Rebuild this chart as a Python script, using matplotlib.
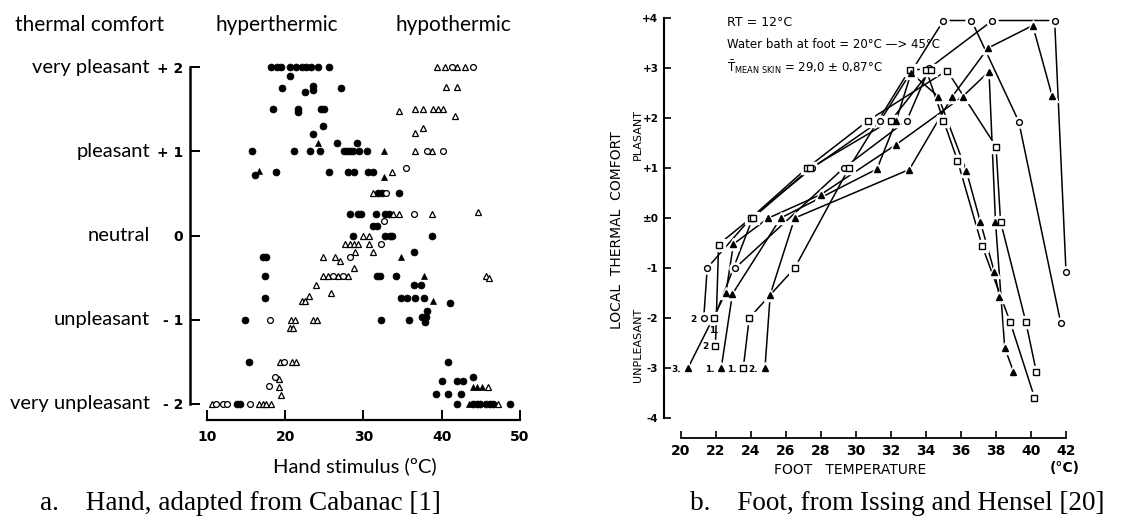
import matplotlib
matplotlib.use("Agg")
import matplotlib.pyplot as plt

W, H = 1136, 523

# ---- panel a: hand (Cabanac) ----
fc_x = [18.2, 18.9, 19.5, 20.6, 21.4, 22.1, 22.7, 23.3, 24.2, 25.6,
        20.6, 19.6, 22.5, 23.6, 23.6, 27.1,
        18.5, 21.6, 21.6, 24.6, 25.0, 24.8, 23.6, 26.6, 29.2,
        15.7, 21.1, 23.2, 24.5, 27.5, 27.9, 28.3, 28.7, 29.4, 30.5,
        16.2, 18.8, 25.6, 28.0, 28.8, 30.6, 31.2,
        31.9, 32.4, 34.6,
        28.3, 29.3, 29.7, 31.6, 32.7, 33.3, 31.2, 31.7,
        28.7, 32.7, 33.4, 33.7, 38.7, 36.4, 17.2, 17.6,
        17.4, 31.7, 32.1, 34.2, 36.4, 37.3,
        17.4, 34.8, 35.5, 36.6, 37.7, 41.1, 38.1,
        14.9, 32.3, 35.8, 37.5, 38.0, 37.8,
        15.4, 40.8, 44.0, 40.0, 41.9, 42.7, 39.3, 40.8, 42.5,
        41.9, 44.0, 44.5, 44.9, 45.7, 46.2, 46.6, 48.7, 13.8, 14.2]
fc_y = [2, 2, 2, 2, 2, 2, 2, 2, 2, 2,
        1.89, 1.75, 1.70, 1.78, 1.73, 1.75,
        1.5, 1.5, 1.47, 1.5, 1.5, 1.3, 1.2, 1.1, 1.1,
        1, 1, 1, 1, 1, 1, 1, 1, 1, 1,
        0.72, 0.75, 0.75, 0.75, 0.75, 0.75, 0.75,
        0.51, 0.51, 0.51,
        0.26, 0.26, 0.26, 0.26, 0.26, 0.26, 0.11, 0.11,
        0, 0, 0, 0, 0, -0.2, -0.25, -0.25,
        -0.48, -0.48, -0.48, -0.48, -0.59, -0.59,
        -0.74, -0.74, -0.74, -0.74, -0.74, -0.8, -0.9,
        -1, -1, -1, -0.97, -0.97, -1.03,
        -1.5, -1.5, -1.68, -1.73, -1.73, -1.73, -1.88, -1.88, -1.88,
        -2, -2, -2, -2, -2, -2, -2, -2, -2, -2]

ot_x = [39.4, 40.4, 41.9, 43.0, 40.6, 42.0,
        34.6, 36.6, 37.6, 38.9, 39.5, 40.2, 41.7, 36.6, 37.6,
        36.6, 38.8, 33.7, 31.2, 33.8, 34.6, 38.7, 44.7,
        30.0, 30.7, 27.6, 28.3, 28.8, 29.3, 30.7, 28.9, 31.2,
        24.8, 26.3, 27.0, 28.8,
        24.8, 25.5, 26.8, 28.0, 45.7, 46.0, 23.9, 25.8,
        22.1, 22.5, 23.0, 20.8, 21.2, 23.6, 24.0, 20.6, 21.0,
        19.3, 20.9, 21.4, 19.2, 19.2, 19.5, 45.9,
        10.6, 16.7, 17.2, 17.6, 18.2, 47.2]
ot_y = [2, 2, 2, 2, 1.76, 1.76,
        1.48, 1.5, 1.5, 1.5, 1.5, 1.5, 1.42, 1.22, 1.28,
        1.0, 1.0, 0.75, 0.51, 0.26, 0.26, 0.26, 0.28,
        0, 0, -0.1, -0.1, -0.1, -0.1, -0.1, -0.19, -0.19,
        -0.25, -0.25, -0.3, -0.38,
        -0.48, -0.48, -0.48, -0.48, -0.48, -0.5, -0.59, -0.68,
        -0.78, -0.78, -0.72, -1, -1, -1, -1, -1.1, -1.1,
        -1.5, -1.5, -1.5, -1.7, -1.8, -1.89, -1.8,
        -2, -2, -2, -2, -2, -2]

oc_x = [41.3, 44.0, 38.1, 40.2, 35.4, 32.9, 36.5, 32.6, 32.3, 28.3,
        26.1, 27.4, 18.0, 19.8, 18.7, 17.9, 11.2, 12.0, 12.5, 15.5]
oc_y = [2, 2, 1.0, 1.0, 0.80, 0.51, 0.26, 0.17, -0.1, -0.25,
        -0.48, -0.48, -1.0, -1.5, -1.68, -1.79, -2, -2, -2, -2]

ft_x = [24.2, 32.6, 32.6, 16.7, 34.8, 37.7, 38.9, 44.0, 44.5, 45.1, 43.5]
ft_y = [1.1, 1.0, 0.70, 0.77, -0.25, -0.48, -0.78, -1.8, -1.8, -1.8, -2]

a_yticks = [-2, -1, 0, 1, 2]
a_yticklabels = ["- 2", "- 1", "0", "+ 1", "+ 2"]
a_categories = ["very unpleasant", "unpleasant", "neutral", "pleasant", "very pleasant"]
a_xticks = [10, 20, 30, 40, 50]

# ---- panel b: foot (Issing and Hensel) ----
c1_x = [21.3, 21.5, 24.0, 27.5, 31.4, 35.0, 36.6, 39.3, 41.7]
c1_y = [-2.0, -1.0, 0.0, 1.0, 1.95, 3.95, 3.95, 1.93, -2.1]
c2_x = [23.1, 29.3, 32.9, 34.2, 37.8, 41.35, 42.0]
c2_y = [-1.0, 1.0, 1.95, 3.0, 3.95, 3.95, -1.07]

s1_x = [23.56, 23.9, 26.5, 29.6, 33.07, 34.0, 35.0, 35.8, 37.2, 38.8, 40.2]
s1_y = [-3.0, -2.0, -1.0, 1.0, 2.97, 2.97, 1.95, 1.15, -0.55, -2.07, -3.59]
s2_x = [21.97, 22.15, 24.0, 27.2, 30.7, 35.2, 38.0, 38.26, 39.7, 40.3]
s2_y = [-2.55, -0.53, 0.0, 1.0, 1.95, 2.95, 1.43, -0.07, -2.07, -3.07]
s3_x = [21.9, 24.1, 27.4, 32.0, 34.3]
s3_y = [-2.0, 0.0, 1.0, 1.95, 2.97]

t1_x = [22.3, 22.94, 25.7, 31.2, 32.3, 33.15, 34.7, 36.3, 37.1, 37.9, 38.2]
t1_y = [-3.0, -1.52, 0.0, 0.98, 1.95, 2.9, 2.43, 0.95, -0.07, -1.07, -1.57]
t2_x = [24.8, 25.1, 26.5, 33.05, 35.5, 37.55, 40.1, 41.2]
t2_y = [-3.0, -1.53, 0.0, 0.97, 2.43, 3.4, 3.85, 2.45]
t3_x = [20.4, 22.57, 23.0, 25.0, 28.0, 32.3, 36.1, 37.6, 37.97, 38.5, 39.0]
t3_y = [-3.0, -1.49, -0.52, 0.0, 0.47, 1.47, 2.43, 2.93, -0.07, -2.6, -3.07]

b_yticks = [-4, -3, -2, -1, 0, 1, 2, 3, 4]
b_yticklabels = ["-4", "-3", "-2", "-1", "±0", "+1", "+2", "+3", "+4"]
b_xticks = [20, 22, 24, 26, 28, 30, 32, 34, 36, 38, 40, 42]

SANS = ["Lato", "DejaVu Sans"]


def ftext(x, y, s, **kw):
    fig.text(x / W, 1 - y / H, s, **kw)


fig = plt.figure(figsize=(W / 100, H / 100), dpi=100)

# panel a
ax = fig.add_axes([190 / W, 1 - 420 / H, 350 / W, (420 - 58.6) / H])
ax.set_xlim(7.83, 52.56)
ax.set_ylim(-2.19, 2.1)
for side in ("top", "right"):
    ax.spines[side].set_visible(False)
ax.spines["left"].set_bounds(-2, 2)
ax.spines["bottom"].set_bounds(10, 50)
ax.spines["left"].set_linewidth(1.8)
ax.spines["bottom"].set_linewidth(1.6)
ax.set_yticks(a_yticks)
ax.set_yticklabels(a_yticklabels, fontsize=10, fontweight="bold")
ax.set_xticks(a_xticks)
ax.set_xticklabels([str(t) for t in a_xticks], fontsize=10, fontweight="bold")
ax.tick_params(axis="y", direction="in", length=7, width=1.4, pad=5)
ax.tick_params(axis="x", direction="in", length=7, width=1.4, pad=7)

ax.plot(fc_x, fc_y, ls="none", marker="o", ms=5, mfc="k", mec="k", mew=0.5)
ax.plot(ot_x, ot_y, ls="none", marker="^", ms=4.2, mfc="white", mec="k", mew=0.9)
ax.plot(oc_x, oc_y, ls="none", marker="o", ms=4.2, mfc="white", mec="k", mew=0.9)
ax.plot(ft_x, ft_y, ls="none", marker="^", ms=4.4, mfc="k", mec="k", mew=0.5)

for yv, cat in zip(a_yticks, a_categories):
    ax.text(-0.115, yv, cat, transform=ax.get_yaxis_transform(), ha="right",
            va="center", fontsize=14.5, family=SANS)

ftext(90, 25, "thermal comfort", ha="center", va="center", fontsize=15, family=SANS)
ftext(277, 25, "hyperthermic", ha="center", va="center", fontsize=15, family=SANS)
ftext(453, 25, "hypothermic", ha="center", va="center", fontsize=15, family=SANS)
ftext(355, 466, "Hand stimulus (ºC)", ha="center", va="center", fontsize=14.5, family=SANS)
ftext(40, 503, "a.    Hand, adapted from Cabanac [1]", ha="left", va="center",
      fontsize=19.5, family="Liberation Serif")

# panel b
bx = fig.add_axes([664 / W, 1 - 438 / H, 416 / W, (438 - 8) / H])
bx.set_xlim(19.03, 42.8)
bx.set_ylim(-4.4, 4.2)
for side in ("top", "right"):
    bx.spines[side].set_visible(False)
bx.spines["left"].set_bounds(-4, 4)
bx.spines["bottom"].set_bounds(20, 42)
bx.spines["left"].set_linewidth(1.5)
bx.spines["bottom"].set_linewidth(1.3)
bx.set_yticks(b_yticks)
bx.set_yticklabels(b_yticklabels, fontsize=7.5, fontweight="bold")
bx.set_xticks(b_xticks)
bx.set_xticklabels([str(t) for t in b_xticks], fontsize=10, fontweight="bold")
bx.tick_params(axis="y", direction="in", length=5, width=1.2, pad=4)
bx.tick_params(axis="x", direction="in", length=5, width=1.2, pad=4)

series = [
    (c1_x, c1_y, "o", "white"),
    (c2_x, c2_y, "o", "white"),
    (s1_x, s1_y, "s", "white"),
    (s2_x, s2_y, "s", "white"),
    (s3_x, s3_y, "s", "white"),
    (t1_x, t1_y, "^", "k"),
    (t2_x, t2_y, "^", "k"),
    (t3_x, t3_y, "^", "k"),
]
for xs, ys, m, face in series:
    bx.plot(xs, ys, color="k", lw=1.1, zorder=1)
for xs, ys, m, face in series:
    bx.plot(xs, ys, ls="none", marker=m, ms=8, mfc="white", mec="white", zorder=2)
for xs, ys, m, face in series:
    bx.plot(xs, ys, ls="none", marker=m, ms=4.2, mfc=face, mec="k", mew=1.0, zorder=3)

# start-point labels
for xv, yv, lab in [(t3_x[0], t3_y[0], "3."), (t1_x[0], t1_y[0], "1."),
                    (s1_x[0], s1_y[0], "1."), (t2_x[0], t2_y[0], "2."),
                    (c1_x[0], c1_y[0], "2"), (s2_x[0], s2_y[0], "2")]:
    bx.annotate(lab, (xv, yv), xytext=(-5, -1), textcoords="offset points",
                ha="right", va="center", fontsize=6.5, fontweight="bold")
bx.annotate("1.", (s3_x[0], s3_y[0]), xytext=(0, -9), textcoords="offset points",
            ha="center", va="center", fontsize=6.5, fontweight="bold")

ftext(727, 23, "RT = 12°C", ha="left", va="center", fontsize=9)
ftext(727, 45, "Water bath at foot = 20°C —> 45°C", ha="left", va="center", fontsize=8.5)
ftext(727, 67, r"$\bar{\mathrm{T}}_{\mathrm{MEAN\ SKIN}}$ = 29,0 ± 0,87°C",
      ha="left", va="center", fontsize=8.5)
ftext(617, 230, "LOCAL  THERMAL  COMFORT", ha="center", va="center",
      rotation=90, fontsize=10)
ftext(638, 135, "PLASANT", ha="center", va="center", rotation=90, fontsize=8)
ftext(638, 345, "UNPLEASANT", ha="center", va="center", rotation=90, fontsize=8)
ftext(850, 470, "FOOT   TEMPERATURE", ha="center", va="center", fontsize=10)
ftext(1065, 468, "(°C)", ha="center", va="center", fontsize=10, fontweight="bold")
ftext(690, 503, "b.    Foot, from Issing and Hensel [20]", ha="left", va="center",
      fontsize=19.5, family="Liberation Serif")

fig.savefig("out.png", dpi=100)
